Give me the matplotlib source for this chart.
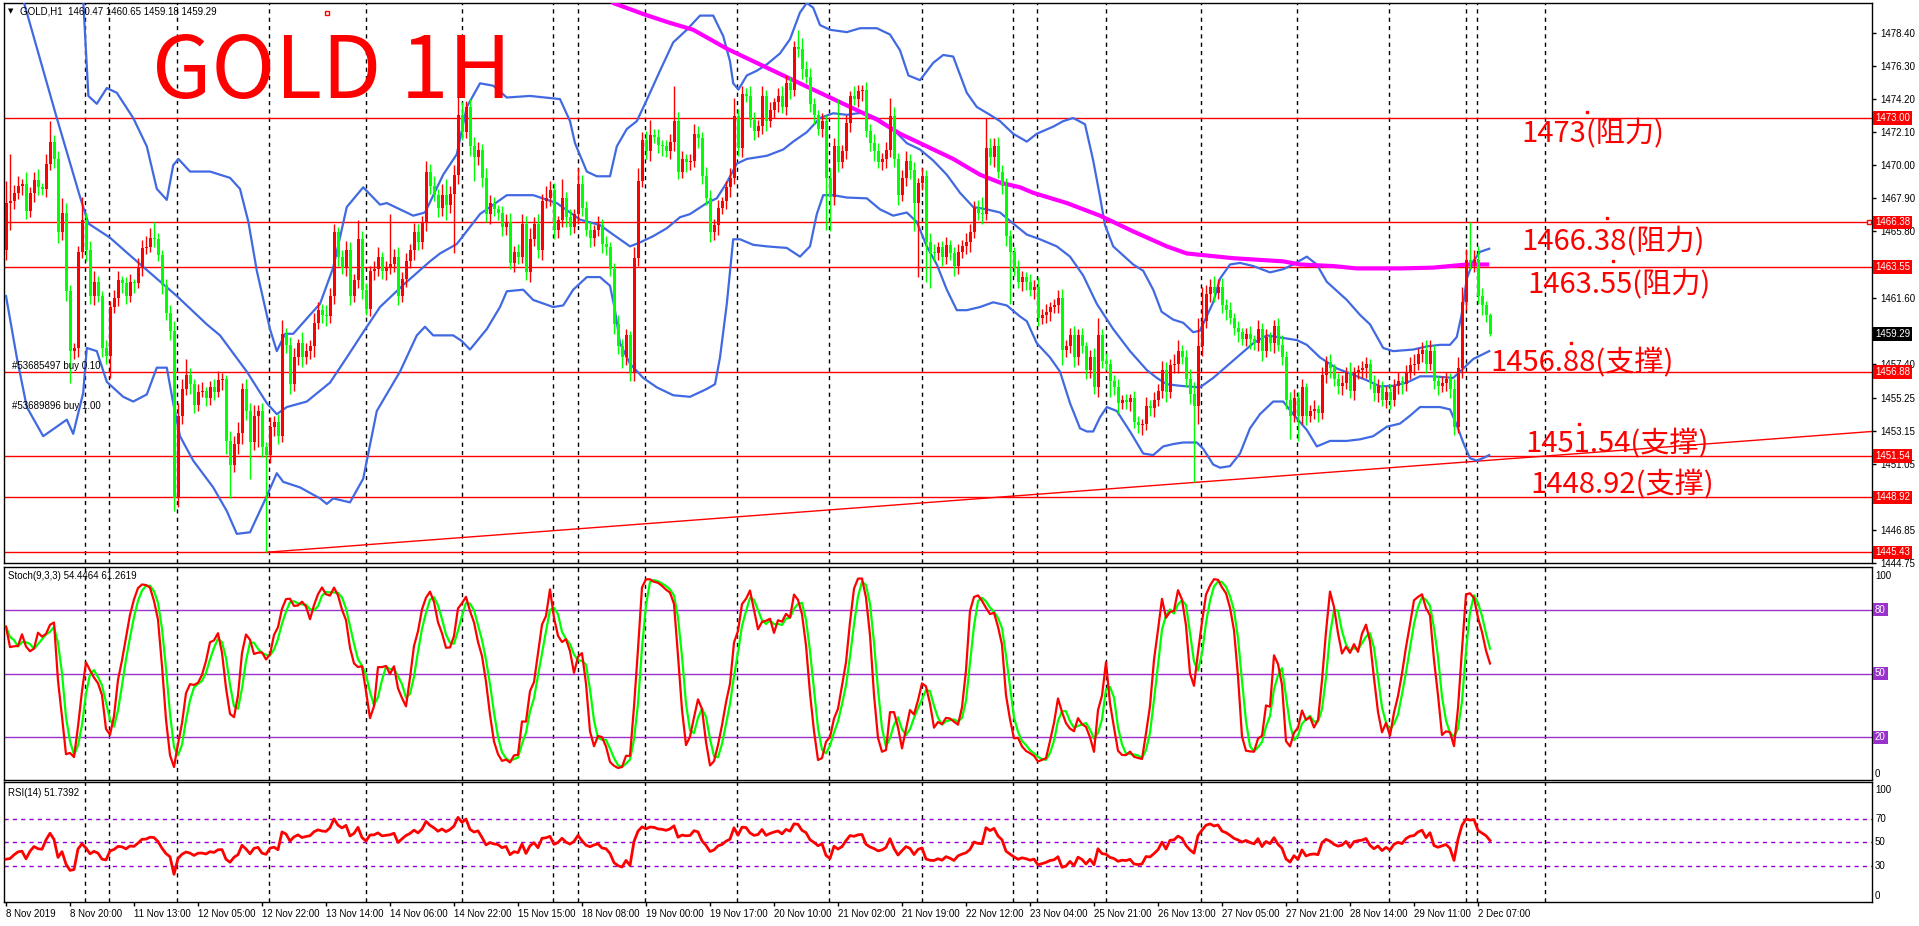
import numpy as np
import pandas as pd
import matplotlib
matplotlib.use("Agg")
import matplotlib.pyplot as plt
import matplotlib.transforms as mtransforms

plt.rcParams['font.family'] = ['Liberation Sans', 'DejaVu Sans']
CJK = ['Noto Sans CJK SC', 'DejaVu Sans']

# ---------------- data ----------------
first_open = 1464.6
closes = [
    1467.6, 1467.7, 1468.25, 1468.7, 1468.8, 1467.1, 1468.25, 1469.05, 1468.6, 1468.5,
    1470.1, 1471.5, 1470.4, 1465.75, 1467.0, 1462.0, 1458.2, 1458.4, 1464.5, 1466.5,
    1464.6, 1461.7, 1462.6, 1461.7, 1458.4, 1457.9, 1461.0, 1461.55, 1462.7, 1462.5,
    1461.7, 1462.6, 1462.5, 1463.5, 1464.75, 1464.8, 1465.4, 1465.3, 1464.3, 1462.4,
    1460.65, 1459.5, 1448.9, 1454.1, 1455.8, 1456.7, 1456.1, 1454.8, 1455.6, 1455.65,
    1455.2, 1455.9, 1455.6, 1456.35, 1456.4, 1452.5, 1451.0, 1452.3, 1453.0, 1455.8,
    1454.4, 1452.4, 1454.1, 1454.4, 1452.1, 1451.6, 1453.4, 1453.7, 1452.8, 1459.3,
    1458.6, 1456.1, 1457.8, 1458.7, 1457.8, 1458.2, 1458.5, 1460.0, 1460.8, 1460.5,
    1460.4, 1461.7, 1465.75, 1464.2, 1463.5, 1464.6, 1461.7, 1462.7, 1465.3, 1462.1,
    1460.9, 1463.3, 1463.4, 1464.2, 1463.3, 1463.5, 1463.7, 1464.2, 1461.7, 1462.8,
    1463.9, 1464.6, 1465.75, 1465.1, 1466.4, 1469.6, 1468.7, 1468.1, 1467.3, 1468.1,
    1467.5, 1468.2, 1469.4, 1473.2, 1472.1, 1473.7, 1471.2, 1470.5, 1470.95, 1469.2,
    1466.9, 1467.6, 1467.2, 1467.0, 1466.1, 1466.4, 1463.8, 1464.5, 1464.2, 1466.3,
    1463.2, 1465.3, 1466.3, 1464.6, 1467.7, 1467.9, 1468.4, 1465.9, 1466.5, 1467.9,
    1466.7, 1466.1, 1466.9, 1468.8, 1467.3, 1465.9, 1465.4, 1465.9, 1466.2, 1465.0,
    1464.8, 1463.4, 1459.9, 1458.5, 1457.8, 1459.2, 1456.9, 1464.1, 1469.0, 1471.6,
    1470.9, 1471.9, 1471.8, 1471.3, 1471.2, 1470.9, 1471.5, 1472.8, 1469.6, 1470.4,
    1470.2, 1470.3, 1472.0, 1471.7, 1469.3, 1467.9, 1465.75, 1466.2, 1467.3, 1467.7,
    1468.6, 1469.2, 1473.1, 1471.1, 1474.5, 1474.4, 1472.9, 1472.2, 1472.5, 1474.4,
    1472.8, 1473.5, 1474.0, 1474.4, 1473.7, 1475.2, 1474.8, 1477.5, 1477.4, 1476.1,
    1475.6, 1473.9, 1473.2, 1472.3, 1472.8, 1469.2, 1468.0, 1471.2, 1470.2, 1470.9,
    1472.7, 1474.4, 1474.2, 1474.7, 1474.8, 1472.2, 1471.4, 1470.9, 1470.2, 1470.4,
    1470.95, 1473.1, 1470.4, 1468.1, 1469.2, 1470.3, 1469.7, 1467.6, 1468.9, 1469.3,
    1465.1, 1464.5, 1464.4, 1464.8, 1464.2, 1464.95, 1464.4, 1463.6, 1464.5, 1464.85,
    1465.1, 1465.75, 1467.3, 1467.0, 1466.9, 1471.1, 1470.5, 1471.2, 1469.6, 1468.7,
    1465.5, 1464.5, 1463.5, 1462.6, 1462.9, 1462.6, 1462.1, 1462.3, 1460.3, 1460.5,
    1460.7, 1461.0, 1461.1, 1461.55, 1458.3, 1458.5, 1459.2, 1457.8, 1459.2, 1458.5,
    1457.0, 1457.8, 1455.9, 1459.2, 1457.6, 1457.4, 1456.3, 1455.9, 1454.9, 1455.1,
    1455.0, 1455.2, 1453.7, 1453.5, 1453.6, 1454.7, 1454.6, 1455.1, 1455.7, 1457.0,
    1455.6, 1457.3, 1457.4, 1458.2, 1457.8, 1456.45, 1455.45, 1454.7, 1458.5, 1460.1,
    1461.8, 1462.3, 1461.9, 1462.25, 1461.1, 1460.8, 1460.3, 1459.7, 1459.4, 1459.0,
    1459.3, 1458.95, 1458.7, 1459.6, 1458.2, 1459.1, 1458.7, 1459.8, 1458.6, 1457.8,
    1455.1, 1454.1, 1455.2, 1454.1, 1455.9, 1454.1, 1454.4, 1454.5, 1454.3, 1456.7,
    1457.5, 1457.1, 1456.4, 1456.0, 1456.2, 1456.9, 1455.7, 1456.8, 1457.0, 1457.1,
    1457.4, 1456.2, 1455.55, 1456.0, 1455.1, 1455.6, 1455.1, 1456.0, 1456.3, 1456.1,
    1456.9, 1457.3, 1457.4, 1458.0, 1458.3, 1457.4, 1458.2, 1456.3, 1456.0, 1456.2,
    1456.4, 1455.8, 1453.4, 1457.1, 1461.3, 1464.0, 1463.8, 1464.0, 1461.7, 1461.1,
    1460.47, 1459.29,
]
upper_wick = [
    1.4, 3.0, 0.5, 0.6, 0.3, 0.8, 0.4, 0.5, 0.7, 0.3,
    0.6, 1.3, 0.4, 0.5, 0.9, 0.6, 0.4, 0.3, 0.4, 1.5,
    0.5, 0.6, 0.7, 0.4, 0.3, 0.5, 0.4, 0.5, 0.6, 0.3,
    0.4, 0.5, 0.2, 0.6, 0.5, 0.7, 0.6, 1.0, 0.4, 0.3,
    0.4, 0.5, 0.6, 0.8, 0.6, 1.0, 0.4, 0.3, 0.5, 0.6,
    0.3, 0.4, 0.5, 0.6, 0.4, 0.3, 0.6, 0.5, 0.7, 0.4,
    0.6, 0.5, 0.7, 0.4, 0.5, 0.3, 0.6, 0.4, 0.5, 0.9,
    0.4, 0.5, 0.6, 0.3, 0.7, 0.5, 0.4, 0.6, 0.5, 0.4,
    0.6, 0.5, 0.5, 0.3, 0.4, 0.6, 0.5, 0.4, 1.2, 0.5,
    0.4, 0.3, 0.5, 0.6, 0.3, 0.4, 3.2, 0.5, 0.6, 0.4,
    0.5, 0.4, 0.6, 0.5, 0.4, 0.7, 0.5, 0.6, 0.4, 0.7,
    1.0, 0.5, 0.6, 1.2, 0.8, 0.4, 0.5, 0.6, 0.5, 0.4,
    0.6, 0.5, 0.4, 0.3, 0.4, 0.5, 0.6, 0.4, 0.5, 0.6,
    0.5, 0.7, 0.4, 0.6, 0.5, 0.8, 0.6, 0.5, 0.3, 1.2,
    0.4, 0.5, 0.3, 1.0, 0.6, 0.4, 0.5, 0.3, 0.6, 0.4,
    0.5, 0.3, 0.4, 0.6, 0.5, 0.4, 0.3, 0.7, 0.8, 0.5,
    0.6, 1.0, 0.4, 0.5, 0.3, 0.4, 0.5, 2.2, 0.6, 0.5,
    0.3, 0.4, 0.6, 0.5, 0.4, 0.6, 0.5, 0.4, 0.5, 0.3,
    0.4, 0.6, 1.2, 0.5, 0.5, 0.4, 0.6, 0.5, 0.4, 0.6,
    0.4, 0.5, 0.3, 0.5, 0.6, 0.5, 0.4, 0.4, 1.1, 0.7,
    0.5, 0.6, 0.4, 0.3, 0.5, 0.4, 0.6, 0.5, 3.0, 0.4,
    0.5, 0.3, 0.6, 0.4, 0.3, 0.5, 0.4, 0.6, 0.5, 0.4,
    0.5, 1.2, 0.6, 0.4, 0.5, 0.6, 0.4, 0.5, 0.3, 0.5,
    0.4, 0.6, 0.5, 0.3, 0.4, 0.5, 0.3, 0.4, 0.5, 0.4,
    0.6, 0.5, 0.4, 0.5, 1.0, 1.9, 0.6, 0.5, 0.6, 0.4,
    0.5, 0.4, 0.3, 0.5, 0.4, 0.3, 0.5, 0.4, 0.6, 0.4,
    0.5, 0.3, 0.4, 0.5, 0.6, 0.4, 0.5, 0.6, 0.4, 0.5,
    0.3, 0.5, 0.6, 1.1, 0.4, 0.5, 0.3, 0.4, 0.5, 0.3,
    0.4, 0.3, 0.5, 0.4, 0.3, 0.6, 0.4, 0.5, 0.4, 0.6,
    0.5, 0.4, 0.6, 0.7, 0.4, 0.5, 0.6, 0.8, 1.8, 2.2,
    0.6, 0.5, 0.7, 0.5, 0.6, 0.4, 0.5, 0.3, 0.4, 0.3,
    0.4, 0.5, 0.3, 0.6, 0.4, 0.5, 0.3, 0.4, 0.5, 0.6,
    0.4, 0.5, 0.6, 0.4, 0.5, 0.3, 0.4, 0.6, 0.3, 0.5,
    0.4, 0.5, 0.3, 0.4, 0.5, 0.3, 0.6, 0.4, 0.3, 0.5,
    0.4, 0.3, 0.5, 0.4, 0.3, 0.4, 0.5, 0.4, 0.6, 0.3,
    0.4, 0.5, 0.6, 0.4, 0.5, 0.6, 0.7, 0.4, 0.3, 0.4,
    0.5, 0.4, 0.6, 0.7, 1.0, 0.7, 2.38, 0.6, 0.9, 0.5,
    0.3, 0.18,
]
lower_wick = [
    0.6, 1.7, 0.5, 0.4, 0.6, 0.5, 0.4, 0.6, 0.5, 0.4,
    0.5, 0.4, 0.6, 0.7, 0.5, 0.6, 2.0, 0.5, 0.6, 0.4,
    0.7, 0.5, 0.6, 0.4, 0.6, 0.5, 1.4, 0.4, 0.5, 0.6,
    0.5, 0.4, 0.6, 0.3, 0.5, 0.4, 0.3, 0.5, 0.4, 0.6,
    0.5, 0.6, 0.85, 0.6, 0.5, 0.4, 0.6, 0.5, 0.4, 0.3,
    0.5, 0.4, 0.5, 0.3, 0.6, 0.8, 2.1, 0.5, 0.6, 0.7,
    0.6, 2.3, 0.5, 2.0, 0.6, 6.17, 0.5, 0.6, 0.5, 0.4,
    0.5, 0.6, 0.4, 0.5, 0.6, 0.4, 0.5, 0.7, 0.4, 0.5,
    0.6, 0.4, 0.5, 0.6, 0.4, 0.5, 0.6, 0.4, 0.5, 0.6,
    0.4, 0.5, 0.6, 0.4, 0.5, 0.6, 0.4, 0.5, 0.6, 0.4,
    0.5, 0.4, 0.6, 0.5, 0.4, 0.6, 0.5, 0.4, 0.6, 0.5,
    1.0, 0.5, 3.8, 0.6, 0.5, 0.4, 0.6, 1.5, 0.5, 0.6,
    0.5, 0.6, 0.4, 0.5, 0.6, 0.5, 0.4, 0.6, 0.5, 0.4,
    0.5, 0.6, 0.4, 0.5, 0.6, 0.4, 0.5, 0.6, 0.5, 0.4,
    0.6, 0.5, 0.4, 0.6, 0.5, 0.4, 0.6, 0.5, 0.4, 0.6,
    0.5, 0.4, 0.6, 0.5, 0.7, 0.5, 0.6, 0.6, 0.5, 0.4,
    0.5, 0.6, 0.4, 0.5, 0.6, 0.4, 0.5, 0.6, 0.5, 0.4,
    0.6, 0.5, 0.4, 0.6, 0.5, 0.4, 0.6, 0.5, 0.6, 0.4,
    0.5, 0.6, 0.4, 0.5, 0.6, 0.4, 0.5, 0.6, 0.4, 0.5,
    0.6, 0.4, 0.5, 0.6, 0.4, 0.5, 0.6, 0.4, 0.5, 0.6,
    0.4, 0.5, 0.6, 0.4, 0.5, 3.3, 2.2, 0.5, 0.6, 0.4,
    0.5, 0.6, 0.4, 0.5, 0.6, 0.4, 0.5, 0.6, 0.4, 0.5,
    0.6, 0.4, 0.5, 0.6, 0.4, 0.5, 0.6, 1.8, 4.7, 0.5,
    2.5, 2.3, 0.5, 0.4, 0.6, 0.5, 0.4, 0.6, 0.5, 0.4,
    0.5, 0.6, 0.4, 0.5, 0.6, 0.4, 0.5, 0.6, 0.4, 0.5,
    0.6, 3.3, 0.5, 0.4, 0.6, 0.5, 0.4, 0.6, 0.5, 0.4,
    0.5, 0.6, 0.4, 0.5, 1.0, 0.5, 0.4, 0.6, 0.5, 0.4,
    0.6, 0.5, 0.4, 0.6, 0.5, 0.4, 1.0, 0.5, 0.6, 0.4,
    0.5, 0.6, 0.4, 0.5, 0.6, 0.4, 0.5, 0.6, 0.4, 0.5,
    0.6, 0.4, 0.5, 0.6, 0.4, 0.5, 0.6, 4.8, 1.1, 0.6,
    0.4, 0.5, 0.6, 0.4, 0.5, 0.6, 0.4, 0.5, 0.6, 0.4,
    0.5, 0.6, 0.4, 0.5, 0.6, 0.4, 0.5, 0.6, 0.4, 0.5,
    0.6, 1.5, 0.4, 1.6, 0.5, 0.6, 0.4, 0.5, 0.6, 0.4,
    0.5, 0.6, 0.4, 0.5, 0.6, 0.4, 0.5, 0.6, 0.4, 0.5,
    0.6, 0.4, 0.5, 0.6, 0.4, 0.5, 0.6, 0.4, 0.5, 0.6,
    0.4, 0.5, 0.6, 0.4, 0.5, 0.6, 0.4, 0.5, 0.6, 0.4,
    0.5, 0.6, 0.5, 0.4, 0.6, 0.5, 0.4, 0.6, 0.5, 0.6,
    0.4, 0.11,
]

# Bollinger bands (20) and the long moving average, as (bar, price) vertices
bb_upper = [
    (18, 1484.0), (19.3, 1480.5), (20.6, 1474.4), (22.7, 1473.9), (25.2, 1474.9), (27.7, 1474.6),
    (31.8, 1473.0), (35.2, 1471.2), (37.7, 1468.5), (40.2, 1467.8), (41.8, 1470.0), (43.1, 1470.4),
    (46.0, 1469.6), (51.0, 1469.6), (56.0, 1469.2), (58.5, 1468.5), (60.6, 1466.4), (62.7, 1463.3),
    (66.0, 1459.6), (67.7, 1458.2), (69.8, 1459.3), (71.8, 1459.3), (76.0, 1460.5), (78.5, 1461.2),
    (81.8, 1463.5), (85.2, 1467.35), (89.3, 1468.6), (93.5, 1467.5), (95.2, 1467.6), (101.8, 1466.8),
    (104.75, 1467.0), (109.3, 1469.4), (112.7, 1470.7), (115.2, 1473.7), (118.5, 1475.2),
    (121.8, 1475.05), (125.2, 1474.3), (131, 1474.4), (138.5, 1474.2), (141, 1472.8), (142.25, 1471.4),
    (145.2, 1469.6), (147.7, 1469.3), (151, 1469.3), (152.7, 1471.2), (155.2, 1472.3), (157.7, 1472.8),
    (160.2, 1474.15), (163.5, 1476.0), (166.8, 1477.8), (170.2, 1478.6), (173.5, 1479.5),
    (176.8, 1479.5), (179.3, 1478.2), (181, 1476.6), (181.8, 1475.2), (183.1, 1474.8), (185.2, 1475.7),
    (187.7, 1476.0), (190.2, 1476.4), (193.5, 1477.1), (196, 1478.0), (198.5, 1479.7), (200.2, 1480.3),
    (201.8, 1480.0), (203.5, 1478.9), (206, 1478.6), (210.2, 1478.45), (213.5, 1478.7), (217.7, 1478.7),
    (221, 1478.3), (223.5, 1477.3), (225.6, 1475.7), (228.5, 1475.4), (231.8, 1476.5), (234.3, 1477.0),
    (236.8, 1476.9), (240.2, 1474.6), (242.7, 1473.7), (246, 1473.2), (248.5, 1472.8), (251.8, 1472.0),
    (255.2, 1471.5), (257.7, 1472.0), (261.8, 1472.45), (264.3, 1472.8), (266.8, 1473.0),
    (269.75, 1472.6), (271.8, 1470.3), (273.5, 1468.0), (274.75, 1466.2), (276.8, 1464.85),
    (281.8, 1463.7), (284.3, 1463.3), (286.8, 1462.1), (288.9, 1460.7), (291.8, 1460.2),
    (294.3, 1460.0), (296.8, 1459.4), (298.5, 1459.5), (301.8, 1461.3), (303.5, 1462.8), (306, 1463.7),
    (308.5, 1463.8), (311.8, 1463.6), (316, 1463.2), (319.3, 1463.4), (321.8, 1463.7), (325.2, 1464.2),
    (327.7, 1463.7), (330.2, 1462.6), (335.2, 1461.45), (338.5, 1460.5), (341, 1459.9), (344.3, 1458.4),
    (346.8, 1458.2), (351.8, 1458.3), (355.2, 1458.5), (358.5, 1458.6), (361, 1458.6), (362.7, 1459.1),
    (363.9, 1460.5), (365.2, 1462.8), (366.8, 1463.9), (368.5, 1464.5), (370.8, 1464.7),
]
bb_middle = [
    (0, 1483.0), (4.3, 1480.5), (12.7, 1473.0), (18.5, 1468.0), (20.6, 1466.3), (26, 1465.4),
    (31.8, 1464.1), (37.7, 1462.8), (42.7, 1461.7), (50.2, 1459.9), (53.5, 1459.2), (60.2, 1456.9),
    (65.2, 1454.9), (67.7, 1454.2), (70.2, 1454.65), (75.2, 1455.0), (81, 1456.2), (85.2, 1457.8),
    (89.3, 1459.4), (93.5, 1461.0), (99.3, 1462.4), (106, 1463.9), (108.5, 1464.4), (112.7, 1465.0),
    (118.5, 1466.9), (125.2, 1468.1), (131.8, 1468.1), (137.7, 1467.6), (143.5, 1466.55),
    (148.5, 1466.2), (151.8, 1465.6), (156, 1464.85), (158.5, 1465.1), (161.8, 1465.5), (165.2, 1466.0),
    (168.5, 1466.7), (171, 1466.9), (175.2, 1467.6), (177.7, 1467.9), (180.2, 1468.9), (182.7, 1470.1),
    (185.2, 1470.4), (190.2, 1470.6), (194.3, 1471.0), (196.8, 1471.5), (200.2, 1472.1), (203.5, 1473.0),
    (206.8, 1473.3), (210.2, 1473.2), (214.3, 1473.35), (217.7, 1473.0), (221.8, 1472.3),
    (225.2, 1471.4), (228.5, 1471.0), (231.8, 1470.3), (235.2, 1469.4), (238.5, 1468.25),
    (241.8, 1467.35), (245.2, 1467.2), (248.5, 1467.0), (251.8, 1466.3), (255.2, 1465.6),
    (258.5, 1465.3), (262.7, 1464.85), (266, 1464.2), (269.3, 1463.0), (272.7, 1461.2), (276.8, 1459.6),
    (281, 1458.2), (285.2, 1457.0), (287.7, 1456.5), (290.2, 1456.1), (293.5, 1456.0), (298.5, 1455.9),
    (301.8, 1456.5), (306.8, 1457.6), (311.8, 1458.7), (315.2, 1459.2), (320.2, 1459.0),
    (322.7, 1458.9), (325.2, 1458.6), (328.5, 1457.8), (332.7, 1457.1), (336.8, 1456.7),
    (340.2, 1456.35), (343.5, 1455.96), (346.8, 1456.0), (350.2, 1456.2), (353.5, 1456.6),
    (356.8, 1456.6), (361.8, 1456.5), (363.5, 1456.9), (366.8, 1457.7), (370.8, 1458.2),
]
bb_lower = [
    (0, 1461.7), (2.7, 1457.8), (5.2, 1454.65), (9.3, 1452.8), (15.2, 1453.85), (16.8, 1452.95),
    (19.3, 1455.55), (20.2, 1458.4), (22.7, 1458.2), (25.2, 1456.25), (29.3, 1455.3), (31.8, 1455.0),
    (35.2, 1455.45), (37.7, 1457.15), (40.2, 1457.15), (41.8, 1454.9), (43.5, 1452.8), (46.8, 1451.25),
    (51.8, 1449.55), (55.2, 1448.05), (57.7, 1446.6), (61, 1446.7), (65.2, 1449.0), (67.7, 1450.45),
    (69.3, 1449.9), (73.5, 1449.55), (78.5, 1448.85), (80.2, 1448.5), (81.8, 1448.85), (86, 1448.6),
    (89.3, 1450.1), (92.7, 1454.4), (98.5, 1456.9), (102.7, 1459.2), (104.75, 1459.75),
    (106.8, 1459.2), (111.8, 1459.2), (113.9, 1458.85), (116, 1458.3), (120.2, 1459.6),
    (123.5, 1461.0), (125.2, 1462.0), (129.3, 1462.1), (131.8, 1461.45), (136.8, 1461.0),
    (139.3, 1461.1), (141.8, 1462.1), (145.2, 1462.9), (148.5, 1462.9), (151, 1462.35),
    (152.25, 1460.8), (153.5, 1458.7), (156, 1457.4), (159.3, 1456.5), (162.7, 1455.9),
    (166.8, 1455.4), (171, 1455.3), (175.2, 1455.8), (177.25, 1456.1), (178.5, 1457.8),
    (180.2, 1461.2), (181.8, 1465.3), (183.5, 1465.3), (186.8, 1464.95), (190.2, 1464.85),
    (195.2, 1464.75), (198.5, 1464.2), (201, 1464.85), (202.7, 1466.9), (204.3, 1468.1),
    (206.8, 1468.1), (210.2, 1467.95), (215.2, 1467.9), (218.5, 1467.2), (221.8, 1466.8),
    (225.2, 1467.0), (227.7, 1466.4), (230.2, 1464.85), (232.7, 1463.7), (235.2, 1462.1),
    (237.7, 1460.8), (240.2, 1460.8), (243.5, 1461.0), (246.8, 1461.3), (250.2, 1461.1),
    (253.5, 1460.4), (255.2, 1460.1), (257.7, 1458.7), (261, 1457.8), (263.5, 1456.9), (266, 1454.9),
    (268.5, 1453.3), (270.2, 1453.1), (271.8, 1453.1), (273.5, 1454.0), (275.2, 1454.65),
    (277.7, 1454.4), (281, 1453.1), (284.3, 1451.7), (286.8, 1451.6), (289.3, 1452.15),
    (291.8, 1452.3), (294.3, 1452.4), (297.7, 1452.4), (299.3, 1452.0), (301.8, 1451.0),
    (303.5, 1450.8), (306, 1450.9), (308.5, 1451.7), (311, 1453.3), (313.5, 1454.2), (316.8, 1455.0),
    (319.3, 1455.0), (321.8, 1454.2), (325.2, 1453.2), (327.7, 1452.15), (331, 1452.5),
    (335.2, 1452.5), (338.5, 1452.6), (341.8, 1452.8), (345.2, 1453.4), (348.5, 1453.6), (351, 1454.1),
    (353.5, 1454.65), (358.5, 1454.65), (361, 1454.5), (362.7, 1453.5), (364.3, 1452.4), (366, 1451.4),
    (367.7, 1451.25), (369.2, 1451.4), (370.8, 1451.6),
]
long_ma = [
    (148, 1481.5), (151.8, 1480.3), (159.3, 1479.6), (165.2, 1479.1), (171.8, 1478.6), (180.2, 1477.4),
    (188.5, 1476.4), (196.8, 1475.4), (203.5, 1474.6), (210.2, 1473.8), (217.7, 1472.9), (223.5, 1472.0),
    (230.2, 1471.2), (236.8, 1470.4), (243.5, 1469.4), (248.5, 1468.9), (253.5, 1468.6),
    (256.8, 1468.25), (265.2, 1467.6), (273.5, 1466.8), (281.8, 1465.8), (290.2, 1464.85),
    (295.2, 1464.4), (306.8, 1464.1), (319.3, 1463.9), (323.5, 1463.7), (331.8, 1463.6),
    (337.7, 1463.45), (348.5, 1463.45), (356.8, 1463.5), (365.2, 1463.7), (370.8, 1463.7),
]

levels = [1473.00, 1466.38, 1463.55, 1456.88, 1451.54, 1448.92, 1445.43]
last_price = 1459.29
trend_bars = [65, 466.5]
trend_prices = [1445.43, 1453.10]
price_ticks = [1478.40, 1476.30, 1474.20, 1472.10, 1470.00, 1467.90, 1465.80, 1461.60,
               1457.40, 1455.25, 1453.15, 1451.05, 1446.85, 1444.75]
separator_bars = [19.7, 25.8, 42.8, 65.8, 90, 114, 136.75, 143, 159.75, 182.75, 205.75,
                  229, 251.75, 257.75, 275, 298.75, 322.75, 345.75, 365, 367.75, 384.75]
time_tick_bars = list(range(0, 369, 16))
time_tick_labels = ["8 Nov 2019", "8 Nov 20:00", "11 Nov 13:00", "12 Nov 05:00", "12 Nov 22:00",
                    "13 Nov 14:00", "14 Nov 06:00", "14 Nov 22:00", "15 Nov 15:00", "18 Nov 08:00",
                    "19 Nov 00:00", "19 Nov 17:00", "20 Nov 10:00", "21 Nov 02:00", "21 Nov 19:00",
                    "22 Nov 12:00", "23 Nov 04:00", "25 Nov 21:00", "26 Nov 13:00", "27 Nov 05:00",
                    "27 Nov 21:00", "28 Nov 14:00", "29 Nov 11:00", "2 Dec 07:00"]
notes = [("1473(阻力)", 378.75, 1471.95), ("1466.38(阻力)", 378.75, 1465.1),
         ("1463.55(阻力)", 380.25, 1462.35), ("1456.88(支撑)", 371.0, 1457.45),
         ("1451.54(支撑)", 379.75, 1452.28), ("1448.92(支撑)", 381.0, 1449.68)]
note_anchors = [(395.25, 1473.4), (400.25, 1466.65), (401.75, 1463.9), (391.25, 1458.7), (393.25, 1453.55)]
stoch_levels = [80, 50, 20]
rsi_levels = [70, 50, 30]
rsi_seed_gain, rsi_seed_loss = 0.1, 0.6

# ---------------- derived series ----------------
n = min(len(closes), len(upper_wick), len(lower_wick))
c = np.array(closes[:n])
o = np.concatenate([[first_open], c[:-1]])
hi = np.maximum(o, c) + np.array(upper_wick[:n])
lo = np.minimum(o, c) - np.array(lower_wick[:n])
x = np.arange(n)

hs, ls, cs = pd.Series(hi), pd.Series(lo), pd.Series(c)
ll9 = ls.rolling(9, min_periods=1).min()
hh9 = hs.rolling(9, min_periods=1).max()
k_main = 100 * (cs - ll9).rolling(3, min_periods=1).sum() / (hh9 - ll9).rolling(3, min_periods=1).sum()
k_sig = k_main.rolling(3, min_periods=1).mean()

diff = np.diff(np.concatenate([[first_open], c]))
ag, al = rsi_seed_gain, rsi_seed_loss
rsi = []
for dv in diff:
    ag = (ag * 13 + max(dv, 0)) / 14
    al = (al * 13 + max(-dv, 0)) / 14
    rsi.append(100 - 100 / (1 + ag / al))

# ---------------- figure ----------------
W, H = 1919, 926
fig = plt.figure(figsize=(W / 100, H / 100), dpi=100)
fig.patch.set_facecolor('white')


def panel(top, bottom):
    return fig.add_axes([4 / W, (H - bottom) / H, 1868 / W, (bottom - top) / H])


ax = panel(3, 563)
ax_st = panel(567, 780)
ax_rsi = panel(782, 902)
XL = (-0.5, 466.5)
for a in (ax, ax_st, ax_rsi):
    a.set_xlim(*XL)
    for s in a.spines.values():
        s.set_color('black')
        s.set_linewidth(1)
    for sb in separator_bars:
        a.axvline(sb, color='black', lw=1, ls=(0, (3, 3)), zorder=1)
    a.yaxis.tick_right()
    a.tick_params(axis='y', direction='out', length=3, width=1, pad=3, labelsize=7, colors='black')
    a.tick_params(axis='x', bottom=False, labelbottom=False)

# main price panel
ax.set_ylim(1444.75, 1480.3)
ax.set_yticks(price_ticks)
ax.set_yticklabels([f"{t:.2f}" for t in price_ticks])

for lv in levels:
    ax.axhline(lv, color='#ff0000', lw=1, zorder=2)
ax.plot(trend_bars, trend_prices, color='#ff0000', lw=1, zorder=2)

for band in (bb_upper, bb_middle, bb_lower):
    bx, by = zip(*band)
    ax.plot(bx, by, color='#4169e1', lw=1.6, zorder=3)
mx, my = zip(*long_ma)
ax.plot(mx, my, color='#ff00ff', lw=3, zorder=3, solid_capstyle='butt')

bull = c >= o
col = np.where(bull, '#ff0000', '#00ff00')
ax.vlines(x, lo, hi, colors=col, lw=1, zorder=4)
ax.bar(x, np.maximum(np.abs(c - o), 0.07), bottom=np.minimum(o, c), width=0.75,
       color=col, linewidth=0, zorder=5)

ax.plot([465.75], [1466.38], marker='s', ms=3.5, mfc='white', mec='#ff0000', mew=1, clip_on=False, zorder=6)
ax.plot([80.25], [1479.67], marker='s', ms=2.5, mfc='white', mec='#ff0000', mew=1, zorder=6)
ax_x, ax_y = zip(*note_anchors)
ax.plot(ax_x, ax_y, ls='none', marker='s', ms=1.5, color='#ff0000', zorder=6)

for txt, bx, by in notes:
    ax.text(bx, by, txt, color='#ff0000', fontsize=21, family=CJK, ha='left', va='center', zorder=7)

right_off = mtransforms.ScaledTranslation(3 / 100, 0, fig.dpi_scale_trans)


def axis_box(a, val, txt, fc, tc='white'):
    tr = mtransforms.blended_transform_factory(a.transAxes, a.transData) + right_off
    a.text(1.0, val, txt, transform=tr, ha='left', va='center', fontsize=7, color=tc, clip_on=False,
           zorder=10, bbox=dict(boxstyle='square,pad=0.18', fc=fc, ec='none'))


for lv in levels:
    axis_box(ax, lv, f"{lv:.2f}", '#ff0000')
axis_box(ax, last_price, f"{last_price:.2f}", 'black')

fig.text(152 / W, 1 - 98 / H, "GOLD 1H", color='#ff0000', fontsize=62, family=CJK, va='baseline', ha='left')
fig.text(8 / W, 1 - 11 / H, "▼", fontsize=5, family=['DejaVu Sans'], va='center', ha='left')
fig.text(20 / W, 1 - 11 / H, "GOLD,H1  1460.47 1460.65 1459.18 1459.29", fontsize=7, va='center', ha='left')
fig.text(12 / W, 1 - 366 / H, "#53685497 buy 0.10", fontsize=7, va='center', ha='left')
fig.text(12 / W, 1 - 406 / H, "#53689896 buy 1.00", fontsize=7, va='center', ha='left')

# stochastic panel
ax_st.set_ylim(0, 100)
ax_st.set_yticks([])
ax_st.tick_params(axis='y', right=False)
for lv in stoch_levels:
    ax_st.axhline(lv, color='#9932cc', lw=1, zorder=2)
    axis_box(ax_st, lv, str(lv), '#9932cc')
st_tr = mtransforms.blended_transform_factory(ax_st.transAxes, ax_st.transData) + right_off
ax_st.text(1.0, 96, "100", transform=st_tr, fontsize=7, va='center', ha='left', clip_on=False)
ax_st.text(1.0, 3, "0", transform=st_tr, fontsize=7, va='center', ha='left', clip_on=False)
ax_st.plot(x, k_sig, color='#00ff00', lw=1.6, zorder=3)
ax_st.plot(x, k_main, color='#ff0000', lw=1.6, zorder=4)
ax_st.text(4 / 1868, 96, "Stoch(9,3,3) 54.4464 61.2619", transform=mtransforms.blended_transform_factory(
    ax_st.transAxes, ax_st.transData), fontsize=7, va='center', ha='left')

# RSI panel
ax_rsi.set_ylim(-1, 101.5)
ax_rsi.set_yticks([])
ax_rsi.tick_params(axis='y', right=False)
rs_tr = mtransforms.blended_transform_factory(ax_rsi.transAxes, ax_rsi.transData) + right_off
for lv in rsi_levels:
    ax_rsi.axhline(lv, color='#9400d3', lw=1, ls=(0, (3, 3)), zorder=2)
    ax_rsi.text(1.0, lv, str(lv), transform=rs_tr, fontsize=7, va='center', ha='left', clip_on=False)
ax_rsi.text(1.0, 94.5, "100", transform=rs_tr, fontsize=7, va='center', ha='left', clip_on=False)
ax_rsi.text(1.0, 4.5, "0", transform=rs_tr, fontsize=7, va='center', ha='left', clip_on=False)
ax_rsi.plot(x, rsi, color='#ff0000', lw=2, zorder=3)
ax_rsi.text(4 / 1868, 92, "RSI(14) 51.7392", transform=mtransforms.blended_transform_factory(
    ax_rsi.transAxes, ax_rsi.transData), fontsize=7, va='center', ha='left')

ax_rsi.set_xticks(time_tick_bars)
ax_rsi.set_xticklabels(time_tick_labels, ha='left', fontsize=7)
ax_rsi.tick_params(axis='x', bottom=True, labelbottom=True, direction='out', length=3, width=1, pad=2)

fig.savefig("out.png", dpi=100, facecolor='white')
